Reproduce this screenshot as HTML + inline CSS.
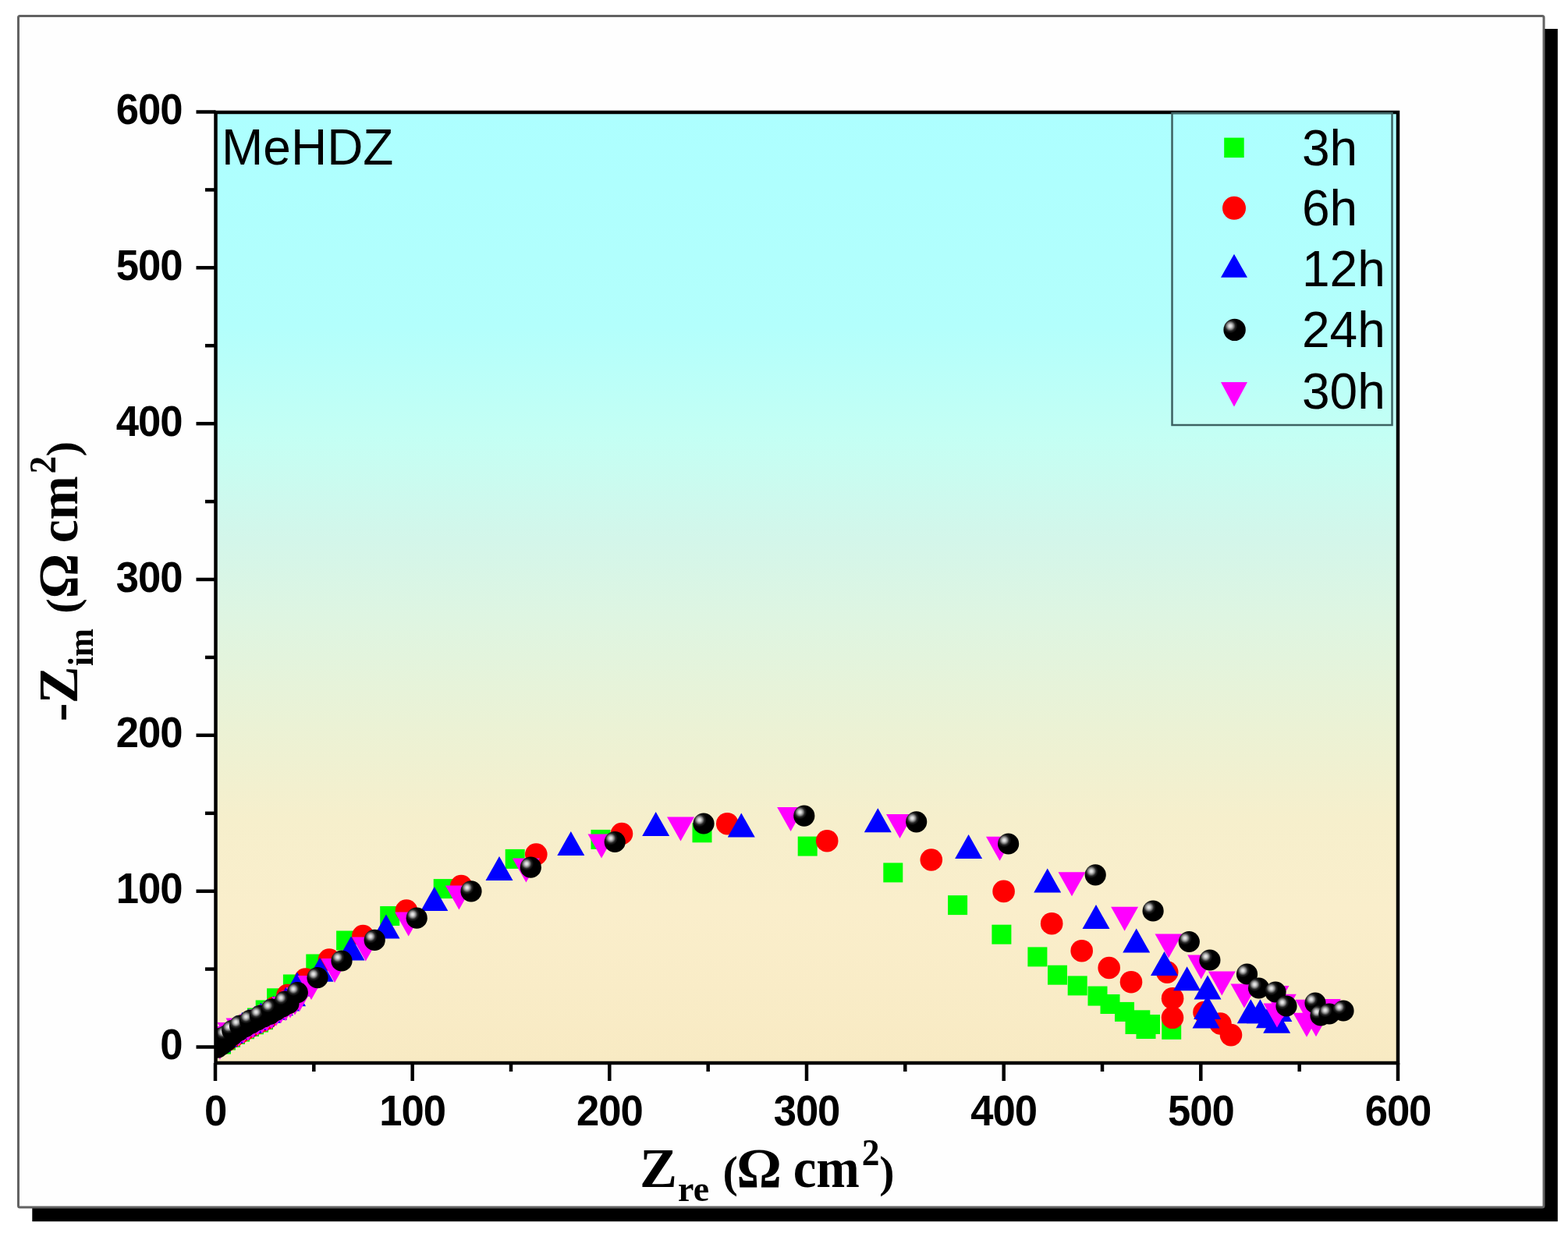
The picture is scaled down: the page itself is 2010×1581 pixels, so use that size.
<!DOCTYPE html>
<html><head><meta charset="utf-8"><title>MeHDZ Nyquist</title>
<style>html,body{margin:0;padding:0;background:#fff;overflow:hidden}svg{display:block}</style>
</head><body>
<svg width="2010" height="1581" viewBox="0 0 2010 1581">
<defs>
<linearGradient id="bg" x1="0" y1="0" x2="0" y2="1">
<stop offset="0" stop-color="#adffff"/>
<stop offset="0.226" stop-color="#b3fffc"/>
<stop offset="0.341" stop-color="#c4fff4"/>
<stop offset="0.448" stop-color="#d3f6ea"/>
<stop offset="0.538" stop-color="#dff5e1"/>
<stop offset="0.645" stop-color="#ebf2d5"/>
<stop offset="0.743" stop-color="#f6efcc"/>
<stop offset="0.84" stop-color="#faeecb"/>
<stop offset="1" stop-color="#f8eac3"/>
</linearGradient>
<radialGradient id="sph" cx="0.305" cy="0.327" r="0.33" gradientUnits="objectBoundingBox">
<stop offset="0" stop-color="#f0f0f0"/>
<stop offset="0.22" stop-color="#d2d2d2"/>
<stop offset="0.45" stop-color="#8a8a8a"/>
<stop offset="0.7" stop-color="#262626"/>
<stop offset="1" stop-color="#000000"/>
</radialGradient>
</defs>
<rect width="2010" height="1581" fill="#ffffff"/>
<rect x="41.3" y="37" width="1955.5" height="1529.2" fill="#000"/>
<rect x="23.5" y="20.5" width="1955.5" height="1527.5" rx="2" fill="#fefefe" stroke="#626262" stroke-width="3"/>
<rect x="276" y="144" width="1516" height="1219" fill="url(#bg)"/>
<clipPath id="pc"><rect x="278" y="146" width="1512" height="1215"/></clipPath>
<g clip-path="url(#pc)">
<g fill="#00ff00"><rect x="271.0" y="1326.6" width="25.0" height="25.0"/><rect x="277.0" y="1321.5" width="25.0" height="25.0"/><rect x="283.0" y="1317.8" width="25.0" height="25.0"/><rect x="289.0" y="1314.0" width="25.0" height="25.0"/><rect x="295.0" y="1310.6" width="25.0" height="25.0"/><rect x="301.0" y="1307.3" width="25.0" height="25.0"/><rect x="307.0" y="1304.0" width="25.0" height="25.0"/><rect x="313.0" y="1301.3" width="25.0" height="25.0"/><rect x="319.0" y="1298.6" width="25.0" height="25.0"/><rect x="325.0" y="1295.2" width="25.0" height="25.0"/><rect x="317.0" y="1292.5" width="25.0" height="25.0"/><rect x="327.7" y="1282.5" width="25.0" height="25.0"/><rect x="342.1" y="1267.3" width="25.0" height="25.0"/><rect x="362.9" y="1249.5" width="25.0" height="25.0"/><rect x="392.3" y="1223.5" width="25.0" height="25.0"/><rect x="431.1" y="1193.5" width="25.0" height="25.0"/><rect x="487.2" y="1162.0" width="25.0" height="25.0"/><rect x="555.7" y="1127.1" width="25.0" height="25.0"/><rect x="647.7" y="1088.9" width="25.0" height="25.0"/><rect x="757.5" y="1063.9" width="25.0" height="25.0"/><rect x="887.5" y="1055.3" width="25.0" height="25.0"/><rect x="1022.7" y="1072.6" width="25.0" height="25.0"/><rect x="1132.3" y="1106.4" width="25.0" height="25.0"/><rect x="1215.1" y="1148.1" width="25.0" height="25.0"/><rect x="1271.4" y="1185.7" width="25.0" height="25.0"/><rect x="1317.4" y="1214.4" width="25.0" height="25.0"/><rect x="1343.0" y="1237.7" width="25.0" height="25.0"/><rect x="1368.7" y="1251.4" width="25.0" height="25.0"/><rect x="1394.5" y="1264.6" width="25.0" height="25.0"/><rect x="1410.5" y="1275.0" width="25.0" height="25.0"/><rect x="1429.0" y="1284.9" width="25.0" height="25.0"/><rect x="1442.5" y="1301.0" width="25.0" height="25.0"/><rect x="1449.3" y="1295.3" width="25.0" height="25.0"/><rect x="1456.5" y="1307.0" width="25.0" height="25.0"/><rect x="1462.0" y="1301.0" width="25.0" height="25.0"/><rect x="1489.2" y="1307.8" width="25.0" height="25.0"/></g>
<g fill="#ff0000"><circle cx="291.1" cy="1334.0" r="14.3"/><circle cx="299.5" cy="1328.7" r="14.3"/><circle cx="306.6" cy="1324.3" r="14.3"/><circle cx="314.1" cy="1320.0" r="14.3"/><circle cx="321.1" cy="1316.1" r="14.3"/><circle cx="329.1" cy="1312.2" r="14.3"/><circle cx="336.1" cy="1309.0" r="14.3"/><circle cx="341.4" cy="1306.2" r="14.3"/><circle cx="352.0" cy="1292.0" r="14.3"/><circle cx="368.5" cy="1276.0" r="14.3"/><circle cx="391.5" cy="1255.5" r="14.3"/><circle cx="422.0" cy="1230.5" r="14.3"/><circle cx="465.3" cy="1200.0" r="14.3"/><circle cx="521.0" cy="1167.5" r="14.3"/><circle cx="591.2" cy="1136.0" r="14.3"/><circle cx="687.3" cy="1095.5" r="14.3"/><circle cx="797.0" cy="1069.0" r="14.3"/><circle cx="932.3" cy="1056.2" r="14.3"/><circle cx="1060.2" cy="1078.2" r="14.3"/><circle cx="1193.8" cy="1102.5" r="14.3"/><circle cx="1286.6" cy="1142.9" r="14.3"/><circle cx="1348.2" cy="1184.2" r="14.3"/><circle cx="1386.7" cy="1219.2" r="14.3"/><circle cx="1421.7" cy="1241.0" r="14.3"/><circle cx="1450.0" cy="1259.2" r="14.3"/><circle cx="1496.2" cy="1246.6" r="14.3"/><circle cx="1503.1" cy="1280.2" r="14.3"/><circle cx="1503.0" cy="1304.8" r="14.3"/><circle cx="1543.5" cy="1298.0" r="14.3"/><circle cx="1564.4" cy="1312.5" r="14.3"/><circle cx="1578.0" cy="1327.1" r="14.3"/></g>
<g fill="#0000ff"><path d="M278.5 1318.1L296.0 1349.1L261.0 1349.1Z"/><path d="M286.5 1311.7L304.0 1342.7L269.0 1342.7Z"/><path d="M294.5 1306.8L312.0 1337.8L277.0 1337.8Z"/><path d="M302.5 1302.1L320.0 1333.1L285.0 1333.1Z"/><path d="M310.5 1297.7L328.0 1328.7L293.0 1328.7Z"/><path d="M318.5 1293.7L336.0 1324.7L301.0 1324.7Z"/><path d="M326.5 1290.1L344.0 1321.1L309.0 1321.1Z"/><path d="M334.5 1285.4L352.0 1316.4L317.0 1316.4Z"/><path d="M342.5 1280.8L360.0 1311.8L325.0 1311.8Z"/><path d="M350.5 1276.7L368.0 1307.7L333.0 1307.7Z"/><path d="M358.5 1271.3L376.0 1302.3L341.0 1302.3Z"/><path d="M366.5 1265.5L384.0 1296.5L349.0 1296.5Z"/><path d="M374.5 1259.3L392.0 1290.3L357.0 1290.3Z"/><path d="M381.0 1246.5L398.5 1277.5L363.5 1277.5Z"/><path d="M410.0 1227.8L427.5 1258.8L392.5 1258.8Z"/><path d="M450.0 1200.5L467.5 1231.5L432.5 1231.5Z"/><path d="M495.0 1172.5L512.5 1203.5L477.5 1203.5Z"/><path d="M556.8 1137.0L574.3 1168.0L539.3 1168.0Z"/><path d="M640.0 1098.0L657.5 1129.0L622.5 1129.0Z"/><path d="M731.8 1066.0L749.3 1097.0L714.3 1097.0Z"/><path d="M840.7 1041.0L858.2 1072.0L823.2 1072.0Z"/><path d="M950.3 1042.5L967.8 1073.5L932.8 1073.5Z"/><path d="M1125.3 1036.2L1142.8 1067.2L1107.8 1067.2Z"/><path d="M1241.6 1070.0L1259.1 1101.0L1224.1 1101.0Z"/><path d="M1342.7 1113.5L1360.2 1144.5L1325.2 1144.5Z"/><path d="M1405.0 1160.0L1422.5 1191.0L1387.5 1191.0Z"/><path d="M1456.7 1190.5L1474.2 1221.5L1439.2 1221.5Z"/><path d="M1492.5 1220.0L1510.0 1251.0L1475.0 1251.0Z"/><path d="M1521.6 1239.2L1539.1 1270.2L1504.1 1270.2Z"/><path d="M1548.0 1250.5L1565.5 1281.5L1530.5 1281.5Z"/><path d="M1547.7 1276.0L1565.2 1307.0L1530.2 1307.0Z"/><path d="M1546.0 1287.5L1563.5 1318.5L1528.5 1318.5Z"/><path d="M1603.3 1281.3L1620.8 1312.3L1585.8 1312.3Z"/><path d="M1615.4 1281.3L1632.9 1312.3L1597.9 1312.3Z"/><path d="M1627.4 1287.2L1644.9 1318.2L1609.9 1318.2Z"/><path d="M1636.7 1293.8L1654.2 1324.8L1619.2 1324.8Z"/><path d="M1638.9 1279.1L1656.4 1310.1L1621.4 1310.1Z"/></g>
<g fill="#ff00ff"><path d="M264.5 1327.5L299.5 1327.5L282.0 1358.5Z"/><path d="M262.5 1318.5L297.5 1318.5L280.0 1349.5Z"/><path d="M269.5 1316.0L304.5 1316.0L287.0 1347.0Z"/><path d="M278.5 1311.0L313.5 1311.0L296.0 1342.0Z"/><path d="M289.5 1305.5L324.5 1305.5L307.0 1336.5Z"/><path d="M288.5 1311.0L323.5 1311.0L306.0 1342.0Z"/><path d="M294.5 1307.3L329.5 1307.3L312.0 1338.3Z"/><path d="M300.5 1303.7L335.5 1303.7L318.0 1334.7Z"/><path d="M306.5 1300.4L341.5 1300.4L324.0 1331.4Z"/><path d="M312.5 1297.1L347.5 1297.1L330.0 1328.1Z"/><path d="M318.5 1294.2L353.5 1294.2L336.0 1325.2Z"/><path d="M324.5 1291.5L359.5 1291.5L342.0 1322.5Z"/><path d="M330.5 1288.4L365.5 1288.4L348.0 1319.4Z"/><path d="M336.5 1284.7L371.5 1284.7L354.0 1315.7Z"/><path d="M342.5 1281.3L377.5 1281.3L360.0 1312.3Z"/><path d="M348.5 1278.2L383.5 1278.2L366.0 1309.2Z"/><path d="M354.5 1274.6L389.5 1274.6L372.0 1305.6Z"/><path d="M360.5 1270.4L395.5 1270.4L378.0 1301.4Z"/><path d="M366.5 1266.0L401.5 1266.0L384.0 1297.0Z"/><path d="M381.5 1251.0L416.5 1251.0L399.0 1282.0Z"/><path d="M411.5 1229.0L446.5 1229.0L429.0 1260.0Z"/><path d="M451.3 1201.5L486.3 1201.5L468.8 1232.5Z"/><path d="M506.2 1169.5L541.2 1169.5L523.7 1200.5Z"/><path d="M570.9 1135.5L605.9 1135.5L588.4 1166.5Z"/><path d="M656.9 1100.5L691.9 1100.5L674.4 1131.5Z"/><path d="M753.5 1069.5L788.5 1069.5L771.0 1100.5Z"/><path d="M855.0 1047.5L890.0 1047.5L872.5 1078.5Z"/><path d="M996.1 1035.1L1031.1 1035.1L1013.6 1066.1Z"/><path d="M1136.0 1043.9L1171.0 1043.9L1153.5 1074.9Z"/><path d="M1264.0 1072.8L1299.0 1072.8L1281.5 1103.8Z"/><path d="M1356.5 1118.3L1391.5 1118.3L1374.0 1149.3Z"/><path d="M1424.1 1162.7L1459.1 1162.7L1441.6 1193.7Z"/><path d="M1480.5 1197.5L1515.5 1197.5L1498.0 1228.5Z"/><path d="M1522.2 1224.5L1557.2 1224.5L1539.7 1255.5Z"/><path d="M1548.8 1245.5L1583.8 1245.5L1566.3 1276.5Z"/><path d="M1577.5 1261.5L1612.5 1261.5L1595.0 1292.5Z"/><path d="M1617.5 1264.0L1652.5 1264.0L1635.0 1295.0Z"/><path d="M1619.5 1286.5L1654.5 1286.5L1637.0 1317.5Z"/><path d="M1626.8 1274.8L1661.8 1274.8L1644.3 1305.8Z"/><path d="M1660.5 1281.8L1695.5 1281.8L1678.0 1312.8Z"/><path d="M1657.5 1298.8L1692.5 1298.8L1675.0 1329.8Z"/><path d="M1669.5 1298.2L1704.5 1298.2L1687.0 1329.2Z"/><path d="M1683.9 1281.1L1718.9 1281.1L1701.4 1312.1Z"/></g>
<g fill="url(#sph)"><circle cx="279.0" cy="1343.1" r="13.6"/><circle cx="284.0" cy="1339.6" r="13.6"/><circle cx="290.0" cy="1335.0" r="13.6"/><circle cx="298.0" cy="1327.3" r="13.6"/><circle cx="306.0" cy="1321.7" r="13.6"/><circle cx="314.0" cy="1316.7" r="13.6"/><circle cx="322.0" cy="1312.2" r="13.6"/><circle cx="330.0" cy="1307.8" r="13.6"/><circle cx="338.0" cy="1304.0" r="13.6"/><circle cx="346.0" cy="1300.4" r="13.6"/><circle cx="354.0" cy="1295.4" r="13.6"/><circle cx="362.0" cy="1291.0" r="13.6"/><circle cx="370.0" cy="1286.7" r="13.6"/><circle cx="281.0" cy="1339.0" r="13.6"/><circle cx="283.4" cy="1331.2" r="13.6"/><circle cx="290.2" cy="1328.1" r="13.6"/><circle cx="297.8" cy="1321.3" r="13.6"/><circle cx="307.6" cy="1315.2" r="13.6"/><circle cx="320.6" cy="1308.4" r="13.6"/><circle cx="333.5" cy="1302.3" r="13.6"/><circle cx="348.3" cy="1294.0" r="13.6"/><circle cx="365.4" cy="1284.1" r="13.6"/><circle cx="381.3" cy="1272.7" r="13.6"/><circle cx="407.0" cy="1253.7" r="13.6"/><circle cx="438.0" cy="1232.0" r="13.6"/><circle cx="480.2" cy="1205.4" r="13.6"/><circle cx="534.2" cy="1177.2" r="13.6"/><circle cx="604.0" cy="1142.8" r="13.6"/><circle cx="680.3" cy="1112.2" r="13.6"/><circle cx="788.2" cy="1079.5" r="13.6"/><circle cx="902.0" cy="1056.0" r="13.6"/><circle cx="1030.8" cy="1046.1" r="13.6"/><circle cx="1174.7" cy="1053.8" r="13.6"/><circle cx="1292.6" cy="1082.0" r="13.6"/><circle cx="1404.2" cy="1121.8" r="13.6"/><circle cx="1478.1" cy="1168.0" r="13.6"/><circle cx="1524.3" cy="1207.5" r="13.6"/><circle cx="1550.9" cy="1231.0" r="13.6"/><circle cx="1598.5" cy="1249.0" r="13.6"/><circle cx="1613.6" cy="1267.0" r="13.6"/><circle cx="1635.0" cy="1272.0" r="13.6"/><circle cx="1649.0" cy="1290.0" r="13.6"/><circle cx="1686.0" cy="1286.0" r="13.6"/><circle cx="1693.0" cy="1302.0" r="13.6"/><circle cx="1704.0" cy="1300.0" r="13.6"/><circle cx="1722.0" cy="1296.0" r="13.6"/></g>
</g>
<g stroke="#000" stroke-width="4.5" fill="none" stroke-linecap="butt">
<rect x="276.5" y="144" width="1515.5" height="1219"/>
<line x1="251.5" y1="1342.5" x2="276.5" y2="1342.5"/>
<line x1="263" y1="1242.6" x2="276.5" y2="1242.6"/>
<line x1="251.5" y1="1142.7" x2="276.5" y2="1142.7"/>
<line x1="263" y1="1042.8" x2="276.5" y2="1042.8"/>
<line x1="251.5" y1="942.8" x2="276.5" y2="942.8"/>
<line x1="263" y1="842.9" x2="276.5" y2="842.9"/>
<line x1="251.5" y1="743.0" x2="276.5" y2="743.0"/>
<line x1="263" y1="643.1" x2="276.5" y2="643.1"/>
<line x1="251.5" y1="543.2" x2="276.5" y2="543.2"/>
<line x1="263" y1="443.2" x2="276.5" y2="443.2"/>
<line x1="251.5" y1="343.3" x2="276.5" y2="343.3"/>
<line x1="263" y1="243.4" x2="276.5" y2="243.4"/>
<line x1="251.5" y1="143.5" x2="276.5" y2="143.5"/>
<line x1="276.0" y1="1363" x2="276.0" y2="1386"/>
<line x1="402.3" y1="1363" x2="402.3" y2="1374"/>
<line x1="528.7" y1="1363" x2="528.7" y2="1386"/>
<line x1="655.0" y1="1363" x2="655.0" y2="1374"/>
<line x1="781.3" y1="1363" x2="781.3" y2="1386"/>
<line x1="907.7" y1="1363" x2="907.7" y2="1374"/>
<line x1="1034.0" y1="1363" x2="1034.0" y2="1386"/>
<line x1="1160.3" y1="1363" x2="1160.3" y2="1374"/>
<line x1="1286.7" y1="1363" x2="1286.7" y2="1386"/>
<line x1="1413.0" y1="1363" x2="1413.0" y2="1374"/>
<line x1="1539.3" y1="1363" x2="1539.3" y2="1386"/>
<line x1="1665.7" y1="1363" x2="1665.7" y2="1374"/>
<line x1="1792.0" y1="1363" x2="1792.0" y2="1386"/>
</g>
<g font-family="Liberation Sans, Arial, sans-serif" font-weight="bold" font-size="56" letter-spacing="-1.1" fill="#000">
<text transform="translate(233.5,1358.0) scale(0.94,1)" x="0" y="0" text-anchor="end">0</text>
<text transform="translate(233.5,1158.2) scale(0.94,1)" x="0" y="0" text-anchor="end">100</text>
<text transform="translate(233.5,958.3) scale(0.94,1)" x="0" y="0" text-anchor="end">200</text>
<text transform="translate(233.5,758.5) scale(0.94,1)" x="0" y="0" text-anchor="end">300</text>
<text transform="translate(233.5,558.7) scale(0.94,1)" x="0" y="0" text-anchor="end">400</text>
<text transform="translate(233.5,358.8) scale(0.94,1)" x="0" y="0" text-anchor="end">500</text>
<text transform="translate(233.5,159.0) scale(0.94,1)" x="0" y="0" text-anchor="end">600</text>
<text transform="translate(276.0,1443) scale(0.94,1)" x="0" y="0" text-anchor="middle">0</text>
<text transform="translate(528.7,1443) scale(0.94,1)" x="0" y="0" text-anchor="middle">100</text>
<text transform="translate(781.3,1443) scale(0.94,1)" x="0" y="0" text-anchor="middle">200</text>
<text transform="translate(1034.0,1443) scale(0.94,1)" x="0" y="0" text-anchor="middle">300</text>
<text transform="translate(1286.7,1443) scale(0.94,1)" x="0" y="0" text-anchor="middle">400</text>
<text transform="translate(1539.3,1443) scale(0.94,1)" x="0" y="0" text-anchor="middle">500</text>
<text transform="translate(1792.0,1443) scale(0.94,1)" x="0" y="0" text-anchor="middle">600</text>
</g>
<text x="284" y="210.6" font-family="Liberation Sans, Arial, sans-serif" font-size="64" fill="#000">MeHDZ</text>
<rect x="1502.5" y="145" width="282" height="400" fill="none" stroke="#3d6262" stroke-width="2.5"/>
<g fill="#00ff00"><rect x="1569.2" y="176.6" width="25.5" height="25.5"/></g>
<g fill="#ff0000"><circle cx="1582.0" cy="266.8" r="15.0"/></g>
<g fill="#0000ff"><path d="M1582.0 325.7L1599.0 355.7L1565.0 355.7Z"/></g>
<g fill="url(#sph)"><circle cx="1582.6" cy="422.9" r="14.2"/></g>
<g fill="#ff00ff"><path d="M1565.0 490.1L1599.0 490.1L1582.0 521.6Z"/></g>
<g font-family="Liberation Sans, Arial, sans-serif" font-size="64" fill="#000">
<text x="1669" y="211.8">3h</text>
<text x="1669" y="289.3">6h</text>
<text x="1669" y="367.0">12h</text>
<text x="1669" y="445.3">24h</text>
<text x="1669" y="523.5">30h</text>
</g>
<text font-family="Liberation Serif, Times New Roman, serif" font-weight="bold" fill="#000" font-size="72" x="820.12" y="1521.90">Z</text>
<text font-family="Liberation Serif, Times New Roman, serif" font-weight="bold" fill="#000" font-size="46" x="869.08" y="1540.30">re</text>
<text font-family="Liberation Serif, Times New Roman, serif" font-weight="bold" fill="#000" font-size="58" x="926.59" y="1521.90">(</text>
<text font-family="Liberation Serif, Times New Roman, serif" font-weight="bold" fill="#000" font-size="72" x="944.15" y="1521.90">Ω</text>
<text font-family="Liberation Serif, Times New Roman, serif" font-weight="bold" fill="#000" font-size="72" transform="translate(1018.7,1521.9) scale(0.927,1)" x="-2.25" y="0">cm</text>
<text font-family="Liberation Serif, Times New Roman, serif" font-weight="bold" fill="#000" font-size="48.5" transform="translate(1106.1,1494) scale(0.94,1)" x="-1.51" y="0">2</text>
<text font-family="Liberation Serif, Times New Roman, serif" font-weight="bold" fill="#000" font-size="58" x="1127.19" y="1521.90">)</text>
<g transform="rotate(-90)">
<text font-family="Liberation Serif, Times New Roman, serif" font-weight="bold" fill="#000" font-size="72" x="-925.35" y="99.00">-</text>
<text font-family="Liberation Serif, Times New Roman, serif" font-weight="bold" fill="#000" font-size="72" x="-902.17" y="99.00">Z</text>
<text font-family="Liberation Serif, Times New Roman, serif" font-weight="bold" fill="#000" font-size="46" transform="translate(-853.3,118.9) scale(0.94,1)" x="-0.72" y="0">im</text>
<text font-family="Liberation Serif, Times New Roman, serif" font-weight="bold" fill="#000" font-size="58" x="-786.81" y="99.00">(</text>
<text font-family="Liberation Serif, Times New Roman, serif" font-weight="bold" fill="#000" font-size="72" x="-767.55" y="99.00">Ω</text>
<text font-family="Liberation Serif, Times New Roman, serif" font-weight="bold" fill="#000" font-size="72" transform="translate(-694.2,99.0) scale(0.936,1)" x="-2.25" y="0">cm</text>
<text font-family="Liberation Serif, Times New Roman, serif" font-weight="bold" fill="#000" font-size="48.5" transform="translate(-606.1,71.3) scale(0.94,1)" x="-1.51" y="0">2</text>
<text font-family="Liberation Serif, Times New Roman, serif" font-weight="bold" fill="#000" font-size="58" x="-585.21" y="99.00">)</text>
</g>
</svg>
</body></html>
